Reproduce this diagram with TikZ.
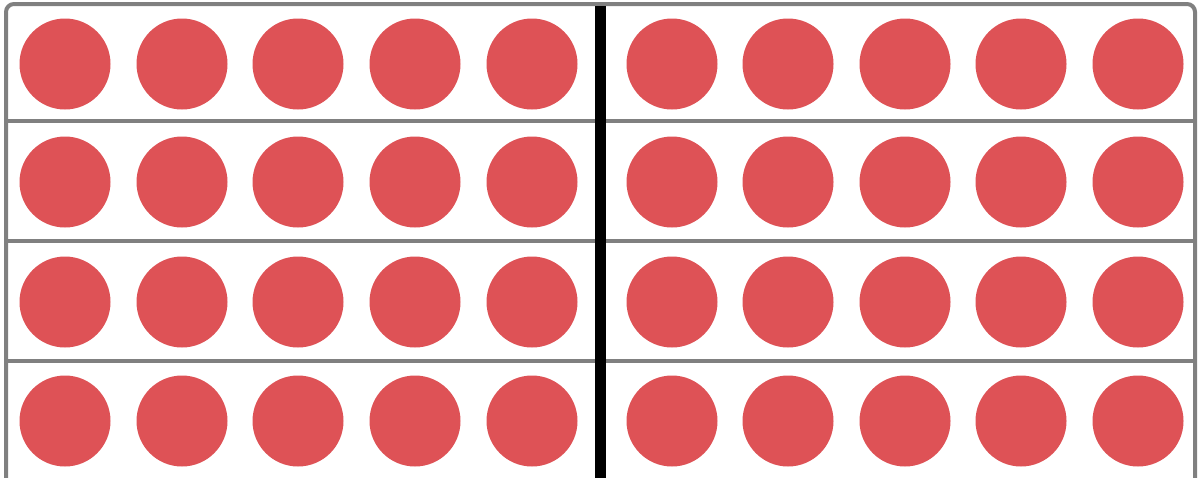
\documentclass[tikz,border=0pt]{standalone}
\definecolor{dotred}{RGB}{222,82,86}
\definecolor{framegrey}{RGB}{128,128,128}
\tikzset{
  dot/.style={circle, fill=dotred, draw=none, minimum size=91pt, inner sep=0pt},
  frameline/.style={draw=framegrey, line width=4pt},
  divider/.style={draw=black, line width=11pt}
}
\begin{document}
\begin{tikzpicture}[x=1pt,y=-1pt]
\fill[white] (0,0) rectangle (1201,477);
\clip (0,0) rectangle (1201,477);
% frame
\draw[frameline, rounded corners=8pt] (6,4) rectangle (1195,500);
\foreach \yy/\nm in {120.5/a,240.5/b,361/c}{
  \coordinate (hl-\nm) at (6,\yy);
  \coordinate (hr-\nm) at (1195,\yy);
  \draw[frameline] (hl-\nm) -- (hr-\nm);
}
% dots
\foreach \r/\yy in {1/64,2/182,3/302,4/421}{
  \foreach \c/\xx in {1/65,2/182,3/298,4/415,5/532,6/672,7/788,8/905,9/1021,10/1138}{
    \node[dot] (d-\r-\c) at (\xx,\yy) {};
  }
}
% divider
\coordinate (vt) at (600.5,6);
\coordinate (vb) at (600.5,480);
\draw[divider] (vt) -- (vb);
\end{tikzpicture}
\end{document}
